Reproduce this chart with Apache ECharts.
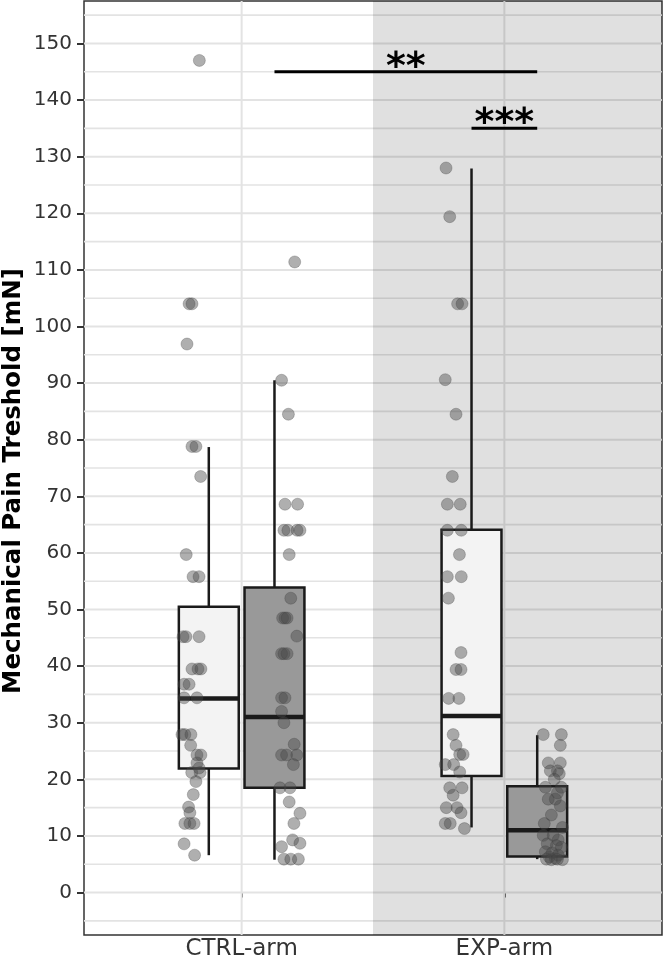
<!DOCTYPE html>
<html>
<head>
<meta charset="utf-8">
<title>Mechanical Pain Treshold</title>
<script src="https://cdn.jsdelivr.net/npm/echarts@6/dist/echarts.min.js"></script>
<style>html,body{margin:0;padding:0;background:#fff;}</style>
</head>
<body>
<div id="main" style="width:664px;height:967px;"></div>
<script type="text/javascript">
// categories and axis ticks
var categories = ['CTRL-arm', 'EXP-arm'];
var yTicks = [0, 10, 20, 30, 40, 50, 60, 70, 80, 90, 100, 110, 120, 130, 140, 150];
var yMinor = [-5, 5, 15, 25, 35, 45, 55, 65, 75, 85, 95, 105, 115, 125, 135, 145, 155];

// box statistics, order: CTRL light, CTRL dark, EXP light, EXP dark
var boxLow  = [6.6, 5.8, 11.5, 5.9];
var boxQ1   = [21.9, 18.5, 20.6, 6.35];
var boxMed  = [34.3, 31.0, 31.2, 11.0];
var boxQ3   = [50.5, 53.9, 64.1, 18.8];
var boxHigh = [78.7, 90.5, 127.9, 27.8];

// single observations (values) and horizontal jitter (category units)
var ctrlLightY = [147, 104, 104, 96.9, 78.8, 78.8, 73.5, 59.7, 55.8, 55.8, 45.2, 45.2, 45.2, 39.5, 39.5, 39.5, 36.8, 36.8, 34.4, 34.4, 27.9, 27.9, 27.9, 26.0, 24.3, 24.3, 22.9, 22.0, 21.2, 21.2, 19.6, 17.3, 15.1, 14.1, 12.2, 12.2, 12.2, 8.6, 6.6];
var ctrlLightJit = [-0.036, -0.075, -0.064, -0.083, -0.064, -0.049, -0.031, -0.086, -0.060, -0.037, -0.098, -0.087, -0.037, -0.064, -0.041, -0.030, -0.094, -0.075, -0.094, -0.045, -0.102, -0.091, -0.068, -0.069, -0.045, -0.030, -0.045, -0.037, -0.065, -0.033, -0.049, -0.059, -0.077, -0.072, -0.091, -0.072, -0.056, -0.094, -0.054];

var ctrlDarkY = [111.4, 90.5, 84.5, 68.6, 68.6, 64.0, 64.0, 64.0, 64.0, 59.7, 52.0, 48.5, 48.5, 48.5, 45.3, 42.2, 42.2, 42.2, 34.4, 34.4, 32.0, 30.0, 26.2, 24.3, 24.3, 24.3, 22.6, 18.5, 18.5, 16.0, 14.0, 12.2, 9.3, 8.7, 8.1, 5.9, 5.9, 5.9];
var ctrlDarkJit = [0.077, 0.027, 0.053, 0.040, 0.088, 0.036, 0.051, 0.086, 0.097, 0.056, 0.062, 0.031, 0.040, 0.048, 0.085, 0.027, 0.036, 0.048, 0.027, 0.040, 0.027, 0.036, 0.075, 0.027, 0.046, 0.085, 0.072, 0.021, 0.059, 0.056, 0.097, 0.074, 0.069, 0.097, 0.027, 0.036, 0.062, 0.091];

var expLightY = [128.0, 119.4, 104.0, 104.0, 90.6, 84.5, 73.5, 68.6, 68.6, 64.0, 64.0, 59.7, 55.8, 55.8, 52.0, 42.4, 39.4, 39.4, 34.3, 34.3, 27.9, 26.0, 24.4, 24.4, 22.6, 22.6, 21.3, 18.5, 18.5, 17.2, 15.0, 15.0, 14.1, 12.2, 12.2, 11.3];
var expLightJit = [-0.097, -0.083, -0.053, -0.036, -0.100, -0.059, -0.073, -0.092, -0.043, -0.092, -0.039, -0.046, -0.092, -0.039, -0.088, -0.040, -0.059, -0.040, -0.087, -0.048, -0.070, -0.059, -0.045, -0.032, -0.100, -0.068, -0.045, -0.083, -0.036, -0.070, -0.096, -0.055, -0.040, -0.100, -0.081, -0.027];

var expDarkY = [27.9, 27.9, 26.0, 22.9, 22.9, 21.5, 21.5, 21.0, 20.0, 18.6, 18.6, 17.6, 16.5, 16.5, 15.3, 13.7, 12.2, 11.5, 10.1, 10.1, 9.3, 8.6, 8.3, 8.0, 7.2, 7.0, 6.6, 6.3, 6.0, 5.9, 5.8, 5.8, 5.9];
var expDarkJit = [0.023, 0.092, 0.088, 0.042, 0.088, 0.050, 0.077, 0.084, 0.065, 0.031, 0.092, 0.077, 0.042, 0.069, 0.088, 0.054, 0.027, 0.096, 0.023, 0.061, 0.080, 0.038, 0.073, 0.092, 0.031, 0.057, 0.080, 0.046, 0.069, 0.035, 0.054, 0.096, 0.077];

// significance brackets (group index from/to, height, label)
var sigFrom = [1, 2];
var sigTo = [3, 3];
var sigY = [145, 135];
var sigLabel = ['**', '***'];

var X_MIN = 0.4, X_MAX = 2.6, Y_MIN = -7.5, Y_MAX = 157.5;
var DODGE = 0.125, BOX_W = 0.228;
var FONT = 'DejaVu Sans';

var groups = [
  { cat: 0, side: -1, fill: '#f3f3f3', y: ctrlLightY, jit: ctrlLightJit },
  { cat: 0, side: 1,  fill: '#999999', y: ctrlDarkY,  jit: ctrlDarkJit },
  { cat: 1, side: -1, fill: '#f3f3f3', y: expLightY,  jit: expLightJit },
  { cat: 1, side: 1,  fill: '#999999', y: expDarkY,   jit: expDarkJit }
];
function center(g) { return groups[g].cat + 1 + groups[g].side * DODGE; }

var boxData = groups.map(function (g, i) {
  return [center(i), boxLow[i], boxQ1[i], boxMed[i], boxQ3[i], boxHigh[i]];
});
var pointData = [];
groups.forEach(function (g, i) {
  g.y.forEach(function (v, k) { pointData.push([center(i) + g.jit[k], v]); });
});

var myChart = echarts.init(document.getElementById('main'));
var option = {
  animation: false,
  grid: { left: 84, right: 2, top: 1, bottom: 32, containLabel: false, outerBoundsMode: 'none',
          show: true, borderColor: '#333', borderWidth: 1.5, backgroundColor: '#fff' },
  xAxis: {
    type: 'value', min: X_MIN, max: X_MAX,
    axisLine: { show: false },
    splitLine: { show: false },
    axisTick: { customValues: [1, 2], length: 5, lineStyle: { color: '#333', width: 2 } },
    axisLabel: {
      customValues: [1, 2], margin: 3, fontSize: 23, color: '#333', fontFamily: FONT,
      formatter: function (v) { return categories[Math.round(v) - 1]; }
    }
  },
  yAxis: {
    type: 'value', min: Y_MIN, max: Y_MAX,
    name: 'Mechanical Pain Treshold [mN]', nameLocation: 'middle', nameGap: 58, nameMoveOverlap: false,
    nameTextStyle: { fontSize: 24.5, fontWeight: 'bold', color: '#000', fontFamily: FONT, padding: [0, 26, 0, 0] },
    axisLine: { show: false },
    splitLine: { show: false },
    axisTick: { customValues: yTicks, length: 7, lineStyle: { color: '#333', width: 2 } },
    axisLabel: { customValues: yTicks, margin: 12, fontSize: 20, color: '#333', fontFamily: FONT }
  },
  series: [
    { // minor + major horizontal grid lines
      type: 'custom', silent: true, z: 1,
      data: yMinor.map(function (v) { return [1, v, 0]; }).concat(yTicks.map(function (v) { return [1, v, 1]; })),
      renderItem: function (params, api) {
        var v = api.value(1);
        var a = api.coord([X_MIN, v]), b = api.coord([X_MAX, v]);
        return { type: 'line', shape: { x1: a[0], y1: a[1], x2: b[0], y2: b[1] },
          style: { stroke: '#e3e3e3', lineWidth: api.value(2) ? 2 : 1.6 } };
      }
    },
    { // vertical grid lines at categories
      type: 'custom', silent: true, z: 1,
      data: [[1, 0], [2, 0]],
      renderItem: function (params, api) {
        var x = api.value(0);
        var a = api.coord([x, Y_MIN]), b = api.coord([x, Y_MAX]);
        return { type: 'line', shape: { x1: a[0], y1: a[1], x2: b[0], y2: b[1] },
          style: { stroke: '#e3e3e3', lineWidth: 2 } };
      }
    },
    { // shaded EXP half
      type: 'custom', silent: true, z: 2,
      data: [[1.5, Y_MAX]],
      renderItem: function (params, api) {
        var a = api.coord([api.value(0), Y_MAX]), b = api.coord([X_MAX, Y_MIN]);
        return { type: 'rect', shape: { x: a[0], y: a[1], width: b[0] - a[0], height: b[1] - a[1] },
          style: { fill: 'rgba(0,0,0,0.12)' } };
      }
    },
    { // boxplots
      type: 'custom', silent: true, z: 3,
      encode: { x: 0, y: [1, 2, 3, 4, 5] },
      data: boxData,
      renderItem: function (params, api) {
        var c = api.value(0);
        var lo = api.coord([c, api.value(1)]);
        var q1 = api.coord([c, api.value(2)]);
        var md = api.coord([c, api.value(3)]);
        var q3 = api.coord([c, api.value(4)]);
        var hi = api.coord([c, api.value(5)]);
        var half = api.size([BOX_W, 0])[0] / 2;
        var ink = '#1a1a1a';
        return { type: 'group', children: [
          { type: 'line', shape: { x1: lo[0], y1: lo[1], x2: q1[0], y2: q1[1] }, style: { stroke: ink, lineWidth: 2.5 } },
          { type: 'line', shape: { x1: q3[0], y1: q3[1], x2: hi[0], y2: hi[1] }, style: { stroke: ink, lineWidth: 2.5 } },
          { type: 'rect', shape: { x: q3[0] - half, y: q3[1], width: 2 * half, height: q1[1] - q3[1] },
            style: { fill: groups[params.dataIndex].fill, stroke: ink, lineWidth: 2.5 } },
          { type: 'line', shape: { x1: md[0] - half, y1: md[1], x2: md[0] + half, y2: md[1] }, style: { stroke: ink, lineWidth: 4.5 } }
        ] };
      }
    },
    { // jittered observations
      type: 'scatter', z: 4, symbolSize: 12,
      itemStyle: { color: 'rgba(72,72,72,0.55)', borderColor: 'rgba(60,60,60,0.35)', borderWidth: 1 },
      data: pointData
    },
    { // significance brackets
      type: 'custom', silent: true, z: 5,
      data: sigY.map(function (v, i) { return [center(sigFrom[i]), v, center(sigTo[i])]; }),
      renderItem: function (params, api) {
        var a = api.coord([api.value(0), api.value(1)]);
        var b = api.coord([api.value(2), api.value(1)]);
        return { type: 'group', children: [
          { type: 'line', shape: { x1: a[0], y1: a[1], x2: b[0], y2: b[1] }, style: { stroke: '#000', lineWidth: 3 } },
          { type: 'text', x: (a[0] + b[0]) / 2, y: a[1] - 4,
            style: { text: sigLabel[params.dataIndex], fill: '#000', font: 'bold 38px "DejaVu Sans"', align: 'center', verticalAlign: 'middle' } }
        ] };
      }
    }
  ]
};
myChart.setOption(option);
</script>
</body>
</html>
